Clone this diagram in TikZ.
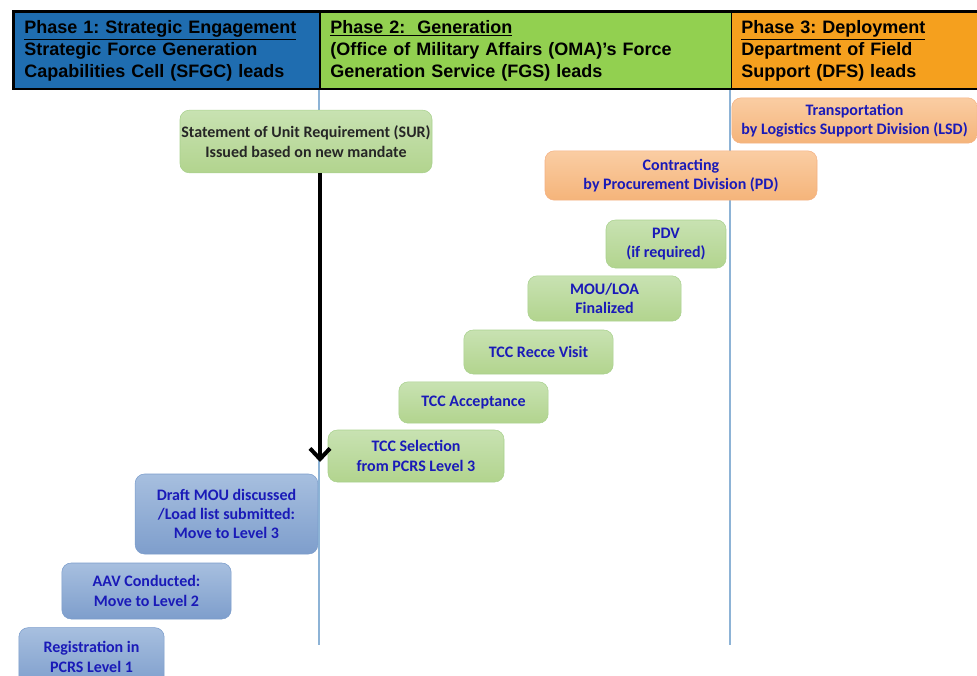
\documentclass[tikz,border=0pt]{standalone}
\usepackage{fontspec}
\setmainfont{Liberation Sans}
\newfontfamily\boxfont{Carlito}
\usetikzlibrary{arrows.meta}
\frenchspacing
\definecolor{hdrblue}{HTML}{1F6DB0}
\definecolor{hdrgreen}{HTML}{92D050}
\definecolor{hdrorange}{HTML}{F5A01E}
\definecolor{steptext}{HTML}{1A1AB8}
\definecolor{divline}{HTML}{8DB3D6}
\definecolor{greentop}{HTML}{C8E2B2}
\definecolor{greenbot}{HTML}{B2D48E}
\definecolor{greenedge}{HTML}{A9D18E}
\definecolor{orangetop}{HTML}{FACDA3}
\definecolor{orangebot}{HTML}{F5B47A}
\definecolor{orangeedge}{HTML}{F4B183}
\definecolor{bluetop}{HTML}{A7BFDF}
\definecolor{bluebot}{HTML}{7E9ECC}
\definecolor{blueedge}{HTML}{7A9CCB}
\begin{document}
\begin{tikzpicture}[x=0.75pt,y=-0.75pt,
  phase/.style={anchor=north west, draw=black, minimum height=58pt, align=left,
    inner xsep=7pt, font=\fontsize{13.5}{16.5}\selectfont\bfseries},
  stepbox/.style={rounded corners=7pt, align=center, text=steptext,
    font=\boxfont\fontsize{12}{14.5}\selectfont\bfseries},
  greenbox/.style={stepbox, draw=greenedge, top color=greentop, bottom color=greenbot},
  orangebox/.style={stepbox, draw=orangeedge, top color=orangetop, bottom color=orangebot},
  bluebox/.style={stepbox, draw=blueedge, top color=bluetop, bottom color=bluebot}]
\useasboundingbox (0,0) rectangle (977,675);

% phase headers
\node[phase, fill=hdrblue, minimum width=229pt, text width=214pt] (ph1) at (14,12)
  {\underline{Phase 1: Strategic Engagement}\\ Strategic Force Generation\\ Capabilities Cell (SFGC) leads};
\node[phase, fill=hdrgreen, minimum width=308pt, text width=293pt] (ph2) at (320,12)
  {\underline{Phase 2:\ \ Generation}\\ (Office of Military Affairs (OMA)'s Force\\ Generation Service (FGS) leads};
\node[phase, fill=hdrorange, minimum width=200pt, text width=185pt] (ph3) at (731,12)
  {\underline{Phase 3: Deployment}\\ Department of Field\\ Support (DFS) leads};
\draw[line width=2.2pt] (13,11) rectangle (990,89);

% phase dividers
\draw[divline, line width=0.8pt] (319,90) -- (319,645);
\draw[divline, line width=0.8pt] (730,90) -- (730,645);

% steps
\node[greenbox, text=black!85, inner xsep=1pt, minimum width=180pt, minimum height=47pt] (sur) at (306,141.5)
  {Statement of Unit Requirement (SUR)\\ Issued based on new mandate};
\node[orangebox, minimum width=184pt, minimum height=34pt] (lsd) at (854.5,120.5)
  {Transportation\\ by Logistics Support Division (LSD)};
\node[orangebox, minimum width=204pt, minimum height=37pt] (pd) at (681,175.5)
  {Contracting\\ by Procurement Division (PD)};
\node[greenbox, minimum width=90pt, minimum height=36pt] (pdv) at (666,244)
  {PDV\\ (if required)};
\node[greenbox, minimum width=115pt, minimum height=34pt] (mou) at (604.5,298.5)
  {MOU/LOA\\ Finalized};
\node[greenbox, minimum width=112pt, minimum height=33pt] (recce) at (538.5,352)
  {TCC Recce Visit};
\node[greenbox, minimum width=112pt, minimum height=31pt] (accept) at (473.5,402.5)
  {TCC Acceptance};
\node[greenbox, minimum width=132pt, minimum height=39pt] (select) at (416,456)
  {TCC Selection\\ from PCRS Level 3};
\node[bluebox, minimum width=137pt, minimum height=60pt] (draft) at (226.5,514)
  {Draft MOU discussed\\ /Load list submitted:\\ Move to Level 3};
\node[bluebox, minimum width=127pt, minimum height=42pt] (aav) at (146.5,591)
  {AAV Conducted:\\ Move to Level 2};
\node[bluebox, minimum width=109pt, minimum height=44pt] (reg) at (91.5,657)
  {Registration in\\ PCRS Level 1};

% timeline arrow
\coordinate (tip) at (320,462);
\draw[line width=3pt, -{Straight Barb[length=8pt,width=15pt]}] (tip |- sur.south) -- (tip);
\end{tikzpicture}
\end{document}
